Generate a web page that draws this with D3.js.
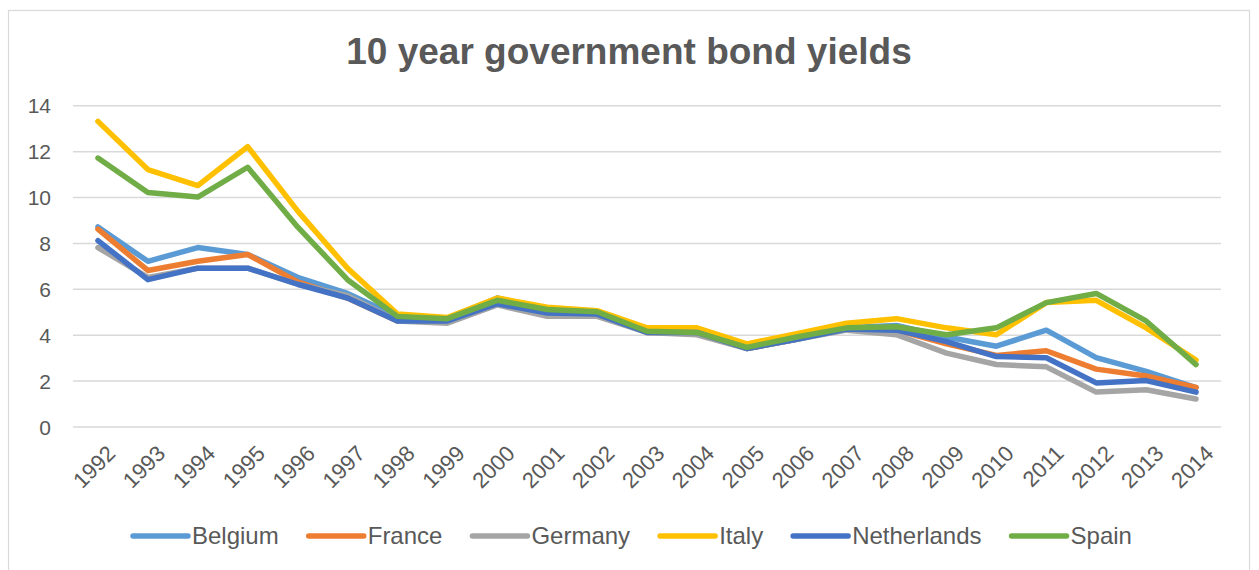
<!DOCTYPE html>
<html>
<head>
<meta charset="utf-8">
<script src="https://cdn.jsdelivr.net/npm/d3@7"></script>
<style>
  html, body { margin: 0; padding: 0; background: #ffffff; }
  svg { display: block; }
  text { font-family: "Liberation Sans", Arial, sans-serif; fill: #595959; }
</style>
</head>
<body>
<svg id="chart" width="1259" height="570"></svg>
<script>
const title = "10 year government bond yields";
const years = ["1992","1993","1994","1995","1996","1997","1998","1999","2000","2001","2002","2003","2004","2005","2006","2007","2008","2009","2010","2011","2012","2013","2014"];
const yTicks = [0, 2, 4, 6, 8, 10, 12, 14];
const seriesNames = ["Belgium", "France", "Germany", "Italy", "Netherlands", "Spain"];
const seriesColors = ["#5B9BD5", "#ED7D31", "#A5A5A5", "#FFC000", "#4472C4", "#70AD47"];

const belgium     = [8.7, 7.2, 7.8, 7.5, 6.5, 5.8, 4.8, 4.7, 5.6, 5.1, 5.0, 4.2, 4.1, 3.4, 3.8, 4.3, 4.4, 3.9, 3.5, 4.2, 3.0, 2.4, 1.7];
const france      = [8.6, 6.8, 7.2, 7.5, 6.3, 5.6, 4.6, 4.6, 5.4, 4.9, 4.9, 4.1, 4.1, 3.4, 3.8, 4.3, 4.2, 3.6, 3.1, 3.3, 2.5, 2.2, 1.7];
const germany     = [7.8, 6.5, 6.9, 6.9, 6.2, 5.7, 4.6, 4.5, 5.3, 4.8, 4.8, 4.1, 4.0, 3.4, 3.8, 4.2, 4.0, 3.2, 2.7, 2.6, 1.5, 1.6, 1.2];
const italy       = [13.3, 11.2, 10.5, 12.2, 9.4, 6.9, 4.9, 4.75, 5.6, 5.2, 5.05, 4.3, 4.3, 3.6, 4.05, 4.5, 4.7, 4.3, 4.0, 5.4, 5.5, 4.3, 2.9];
const netherlands = [8.1, 6.4, 6.9, 6.9, 6.2, 5.6, 4.6, 4.6, 5.35, 4.95, 4.9, 4.1, 4.1, 3.4, 3.8, 4.25, 4.2, 3.7, 3.05, 3.0, 1.9, 2.0, 1.5];
const spain       = [11.7, 10.2, 10.0, 11.3, 8.7, 6.4, 4.8, 4.7, 5.5, 5.1, 5.0, 4.15, 4.1, 3.45, 3.9, 4.3, 4.35, 4.0, 4.3, 5.4, 5.8, 4.6, 2.7];

const seriesValues = [belgium, france, germany, italy, netherlands, spain];

const svg = d3.select("#chart");
const plot = { left: 73, right: 1221, top: 105.3, bottom: 426.5 };

// chart border
svg.append("rect")
  .attr("x", 8.5).attr("y", 10.5)
  .attr("width", 1241).attr("height", 600)
  .attr("fill", "#ffffff")
  .attr("stroke", "#d9d9d9").attr("stroke-width", 1.2);

const x = d3.scalePoint().domain(years).range([plot.left, plot.right]).padding(0.5);
const y = d3.scaleLinear().domain([0, 14]).range([plot.bottom, plot.top]);

// title
svg.append("text")
  .attr("x", 629).attr("y", 64)
  .attr("text-anchor", "middle")
  .style("font-size", "37px").style("font-weight", "bold")
  .text(title);

// gridlines + y labels
const yAxis = d3.axisLeft(y).tickValues(yTicks).tickSize(-(plot.right - plot.left)).tickPadding(22).tickFormat(d3.format("d"));
const gy = svg.append("g").attr("transform", `translate(${plot.left},0)`).call(yAxis);
gy.select(".domain").remove();
gy.selectAll(".tick line").attr("stroke", "#d9d9d9").attr("stroke-width", 1.5);
gy.selectAll(".tick text").style("font-size", "21px").attr("fill", "#595959").attr("dy", "0.36em");

// x axis labels
const xAxis = d3.axisBottom(x).tickSize(0).tickPadding(0);
const gx = svg.append("g").attr("transform", `translate(0,${plot.bottom})`).call(xAxis);
gx.select(".domain").remove();
gx.selectAll(".tick text")
  .style("font-size", "22px").attr("fill", "#595959")
  .attr("text-anchor", "end")
  .attr("dy", null).attr("y", null)
  .attr("transform", "translate(7,17) rotate(-45)")
  .attr("dominant-baseline", "hanging");

// lines
const line = d3.line().x((d, i) => x(years[i])).y(d => y(d));
seriesValues.forEach((vals, k) => {
  svg.append("path")
    .datum(vals)
    .attr("fill", "none")
    .attr("stroke", seriesColors[k])
    .attr("stroke-width", 5.5)
    .attr("stroke-linejoin", "round")
    .attr("stroke-linecap", "round")
    .attr("d", line);
});

// legend
const lg = svg.append("g");
let cx = 133;
seriesNames.forEach((name, k) => {
  const g = lg.append("g").attr("transform", `translate(${cx},536)`);
  g.append("line").attr("x1", 0).attr("x2", 55).attr("y1", 0).attr("y2", 0)
    .attr("stroke", seriesColors[k]).attr("stroke-width", 5.5).attr("stroke-linecap", "round");
  const t = g.append("text").attr("x", 59).attr("y", 0).attr("dy", "0.35em")
    .style("font-size", "24px").text(name);
  cx += 59 + t.node().getComputedTextLength() + 30;
});
</script>
</body>
</html>
